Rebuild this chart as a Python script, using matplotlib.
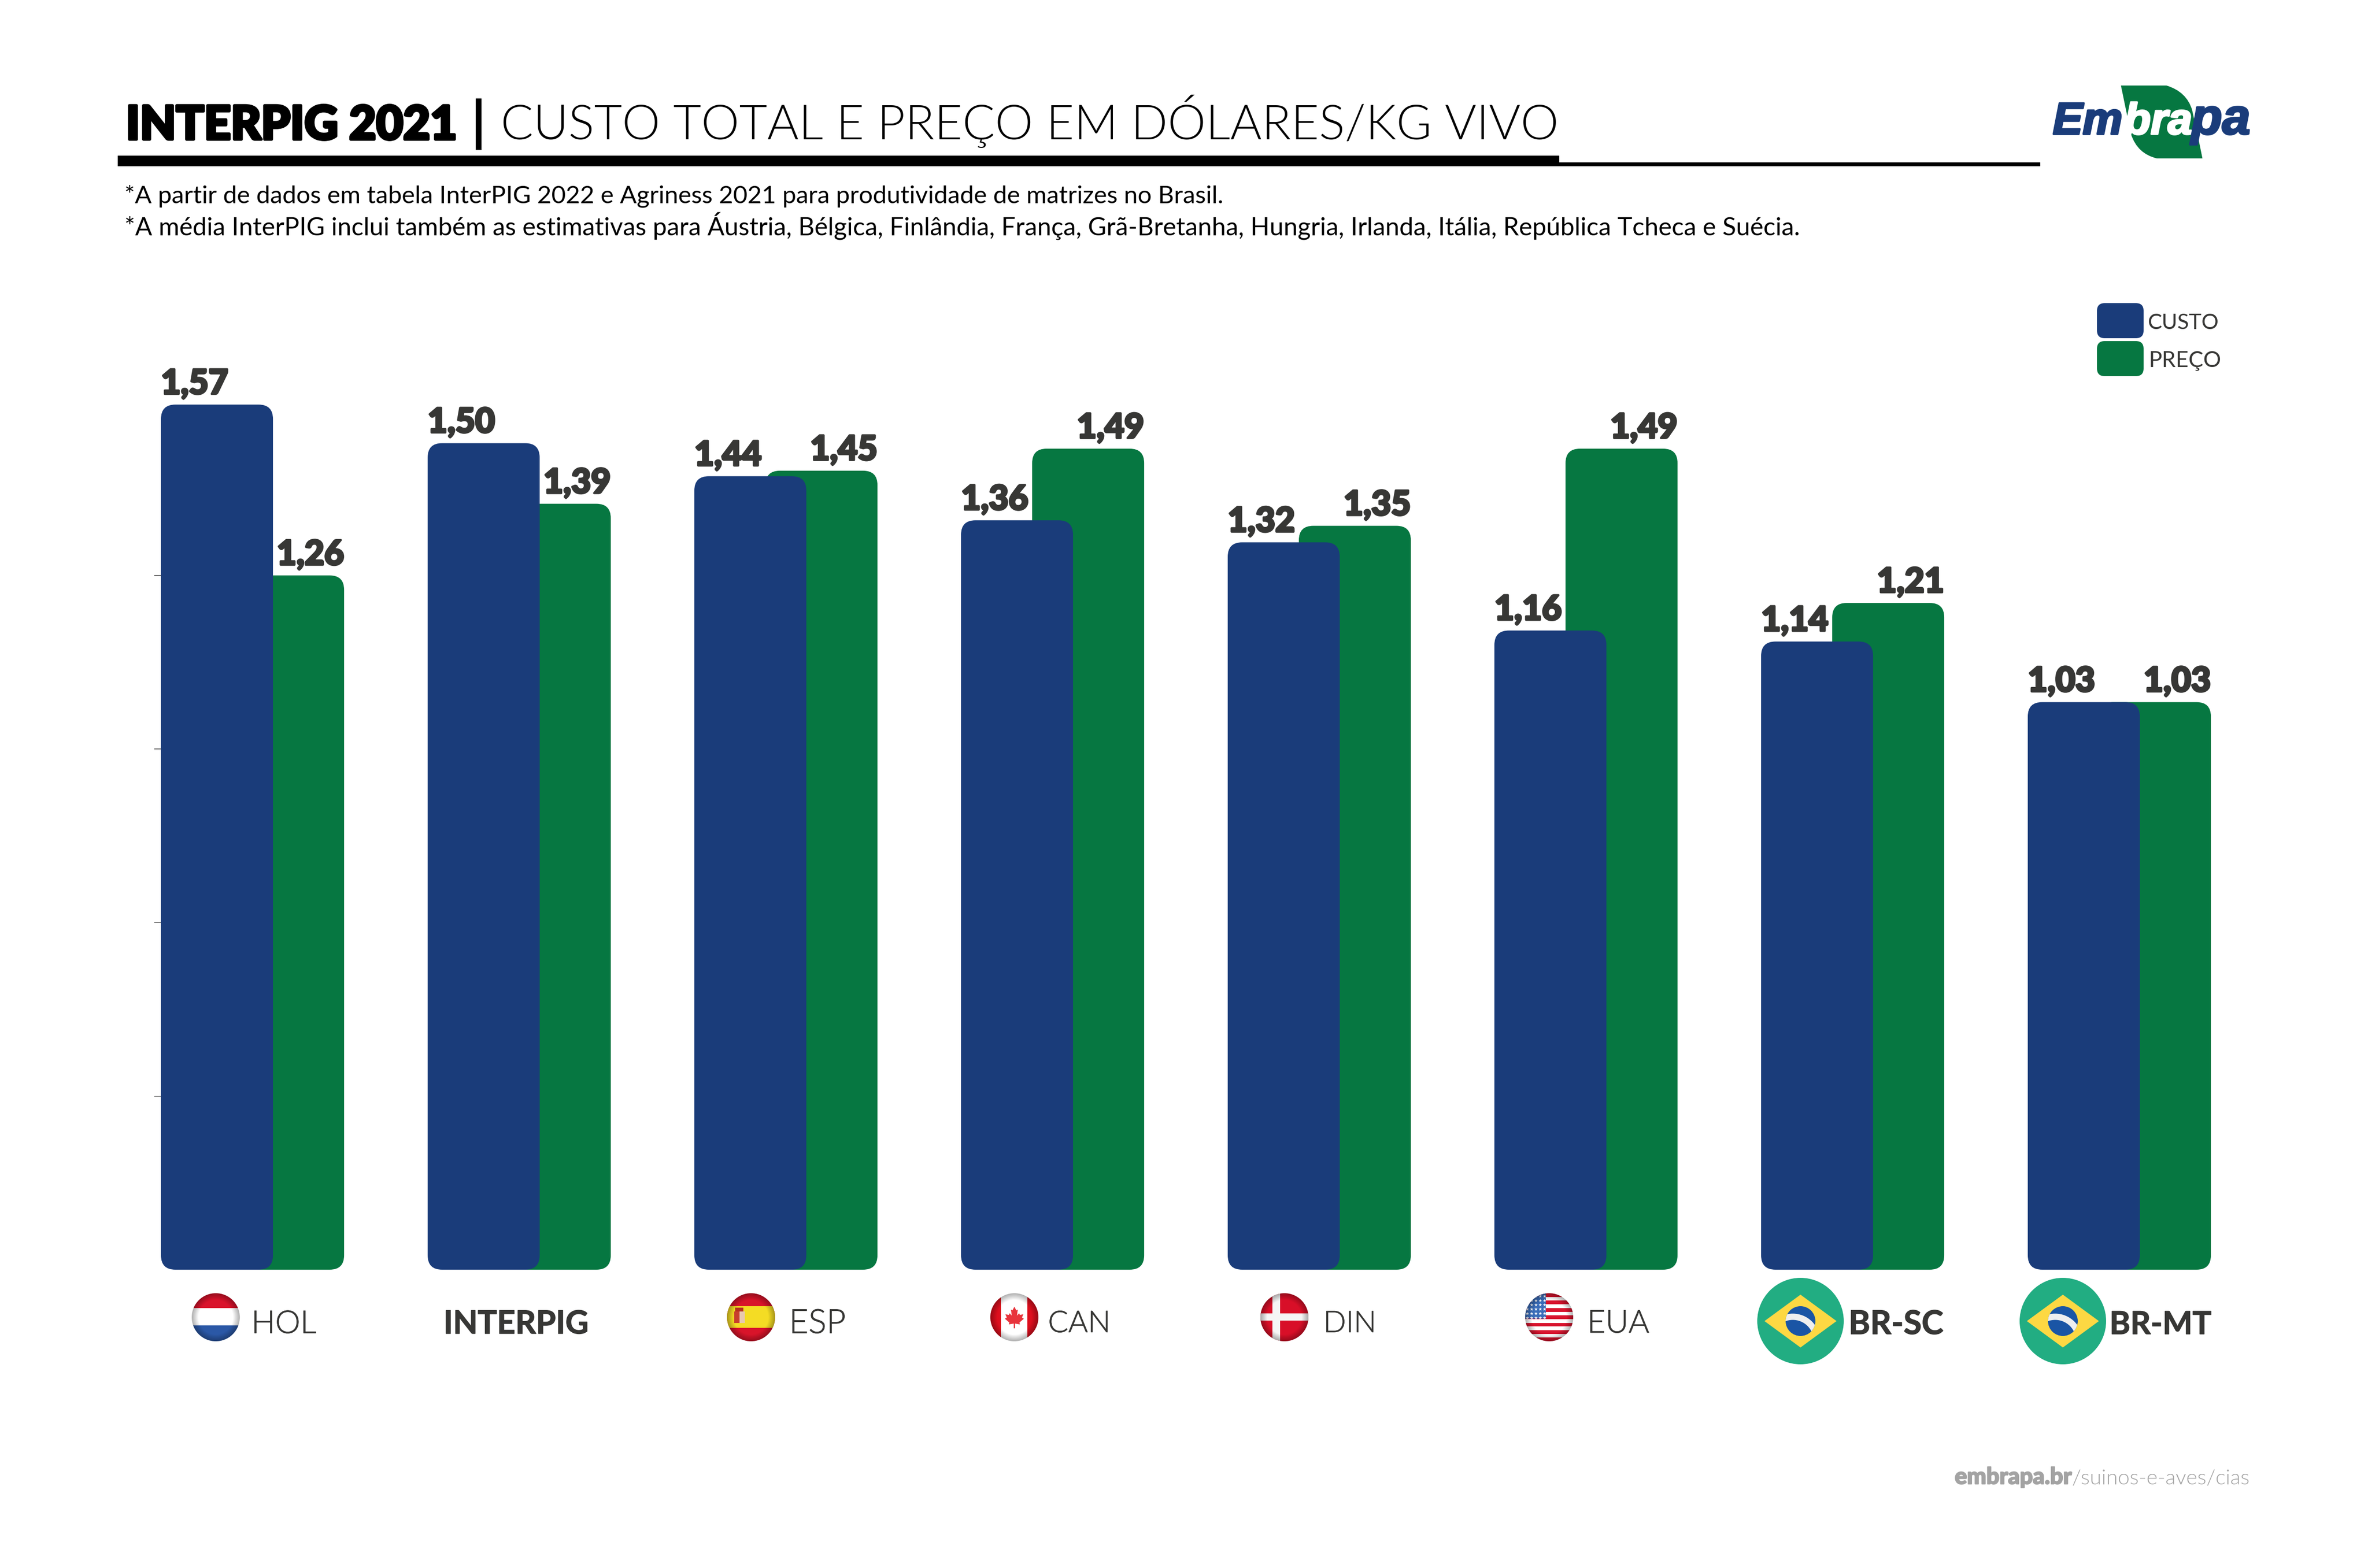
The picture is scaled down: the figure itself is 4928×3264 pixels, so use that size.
import numpy as np
import matplotlib
matplotlib.use("Agg")
import matplotlib.pyplot as plt
import matplotlib.patheffects as pe
from matplotlib.patches import Circle, FancyBboxPatch, PathPatch, Polygon, Rectangle
from matplotlib.path import Path

# Dados do grafico
paises = ["HOL", "INTERPIG", "ESP", "CAN", "DIN", "EUA", "BR-SC", "BR-MT"]
custo = [1.57, 1.50, 1.44, 1.36, 1.32, 1.16, 1.14, 1.03]
preco = [1.26, 1.39, 1.45, 1.49, 1.35, 1.49, 1.21, 1.03]
marcas_y = [0.315, 0.63, 0.945, 1.26]

titulo_forte = "INTERPIG 2021"
titulo_leve = "CUSTO TOTAL E PREÇO EM DÓLARES/KG VIVO"
nota_1 = "*A partir de dados em tabela InterPIG 2022 e Agriness 2021 para produtividade de matrizes no Brasil."
nota_2 = ("*A média InterPIG inclui também as estimativas para Áustria, Bélgica, Finlândia, França, "
          "Grã-Bretanha, Hungria, Irlanda, Itália, República Tcheca e Suécia.")

AZUL = "#1a3c7a"
VERDE = "#067741"
TEXTO = "#373735"
CINZA = "#a3a3a3"
FONTE = "Lato"

W, H = 4928, 3264
fig = plt.figure(figsize=(W / 200, H / 200), dpi=200, facecolor="white")
renderer = fig.canvas.get_renderer()

# eixo dos dados, em pixels: base em y=2643, 1147 px por dolar, 555 px entre grupos
LARGURA = 0.42
DESLOC = 0.2667
x_esq, x_dir = -0.3433, 7.3433
y_max = 1.7
base_px = 2643
px_y = 1147
px_x = 555
ax = fig.add_axes([335 / W, (H - base_px) / H, (x_dir - x_esq) * px_x / W, y_max * px_y / H])
ax.set_xlim(x_esq, x_dir)
ax.set_ylim(0, y_max)
ax.patch.set_alpha(0)
for lado in ax.spines.values():
    lado.set_visible(False)
ax.set_xticks([])
ax.set_yticks(marcas_y)
ax.set_yticklabels([])
ax.tick_params(axis="y", length=5, width=0.7, color="#666666")

# eixo de desenho em pixels, para titulo, bandeiras e logo
ov = fig.add_axes([0, 0, 1, 1], zorder=5)
ov.set_xlim(0, W)
ov.set_ylim(H, 0)
ov.axis("off")


def fit_text(s, x0, x1, y, color=TEXTO, weight="normal", family=FONTE, size=20, style="normal", engrossa=0):
    """Escreve o texto com a linha de base em y, ajustando o corpo para ir de x0 a x1."""
    t = ov.text(x0, y, s, color=color, fontweight=weight, family=family, fontsize=size,
                fontstyle=style, ha="left", va="baseline", zorder=10)
    w = t.get_window_extent(renderer).width
    t.set_fontsize(size * (x1 - x0) / w)
    if engrossa:
        t.set_path_effects([pe.withStroke(linewidth=engrossa, foreground=color)])
    return t


def barra(i, topo, centro, cor, z):
    r = FancyBboxPatch((i + centro - LARGURA / 2, 0), LARGURA, topo,
                       boxstyle="round,pad=0,rounding_size=0.054",
                       mutation_aspect=px_x / px_y, fc=cor, ec="none", zorder=z)
    ax.add_patch(r)


def rotulo(x, y, valor, ha):
    t = ax.annotate(f"{valor:.2f}".replace(".", ","), (x, y), xytext=(0, 8), textcoords="offset points",
                    ha=ha, va="baseline", color=TEXTO, fontsize=25.5, fontweight=900, family=FONTE)
    t.set_path_effects([pe.withStroke(linewidth=1.6, foreground=TEXTO)])


for i, nome in enumerate(paises):
    barra(i, preco[i], DESLOC / 2, VERDE, 2)
    barra(i, custo[i], -DESLOC / 2, AZUL, 3)
    rotulo(i - DESLOC / 2 - LARGURA / 2, custo[i], custo[i], "left")
    rotulo(i + DESLOC / 2 + LARGURA / 2, preco[i], preco[i], "right")

# titulo
fit_text(titulo_forte, 262, 951, 290, color="black", weight=900, engrossa=2.2)
ov.add_patch(Rectangle((990, 205), 12, 107, fc="black", ec="none"))
fit_text(titulo_leve, 1042, 3240, 290, color="black", weight=300)
ov.add_patch(Rectangle((245, 324), 3000, 22, fc="black", ec="none"))
ov.add_patch(Rectangle((3245, 338), 1001, 8, fc="black", ec="none"))
fit_text(nota_1, 259, 2549, 423, color="black", weight=400)
fit_text(nota_2, 259, 3748, 491, color="black", weight=400)

# legenda
for y0, cor, txt, a, b, yb in [(631, AZUL, "CUSTO", 4470, 4618, 685), (710, VERDE, "PREÇO", 4472, 4623, 764)]:
    ov.add_patch(FancyBboxPatch((4364, y0), 97, 73, boxstyle="round,pad=0,rounding_size=16", fc=cor, ec="none"))
    fit_text(txt, a, b, yb, weight=400)

# rodape
fit_text("embrapa.br", 4068, 4311, 3089, color=CINZA, weight=900, engrossa=0.8)
fit_text("/suinos-e-aves/cias", 4311, 4681, 3089, color=CINZA, weight=300)


# logo
def lp(X, Y):
    return 4100 + X / 2.24, 100 + Y / 2.09


folha = [lp(703, 163), lp(915, 163), lp(1010, 190), lp(1035, 270), lp(1068, 412), lp(1083, 480),
         lp(870, 480), lp(780, 460), lp(750, 375), lp(703, 163)]
codigos = [Path.MOVETO, Path.LINETO, Path.CURVE3, Path.CURVE3, Path.LINETO, Path.LINETO,
           Path.LINETO, Path.CURVE3, Path.CURVE3, Path.CLOSEPOLY]
ov.add_patch(PathPatch(Path(folha, codigos), fc=VERDE, ec="none", zorder=6))
LOGO = "Liberation Sans"
fit_text("Em", 4272, 4417, 279, color=AZUL, weight="bold", family=LOGO, style="italic", engrossa=1.5)
fit_text("bra", 4420, 4562, 279, color="white", weight="bold", family=LOGO, style="italic", engrossa=1.5)
fit_text("pa", 4560, 4683, 279, color=AZUL, weight="bold", family=LOGO, style="italic", engrossa=1.5)


# bandeiras
def brilho(cx, cy, r, clip):
    """Sombra na borda e reflexo claro, como nos botoes redondos do original."""
    g = np.linspace(-1, 1, 120)
    xx, yy = np.meshgrid(g, g)
    d = np.hypot(xx, yy)
    rgba = np.zeros((120, 120, 4))
    rgba[..., 3] = np.clip((d - 0.72) * 1.1, 0, 0.4)
    im = ov.imshow(rgba, extent=(cx - r, cx + r, cy + r, cy - r), aspect="auto", zorder=8, interpolation="bilinear")
    im.set_clip_path(clip)


def base_bandeira(cx, cy, r=50):
    c = Circle((cx, cy), r, transform=ov.transData, fc="white", ec="none", zorder=6)
    ov.add_patch(c)
    return c


def faixa(x, y, w, h, cor, clip, z=7):
    p = Rectangle((x, y), w, h, fc=cor, ec="none", zorder=z)
    ov.add_patch(p)
    p.set_clip_path(clip)


CY = 2742
# Holanda
c = base_bandeira(449, CY)
faixa(399, CY - 50, 100, 31, "#d9122b", c)
faixa(399, CY + 17, 100, 33, "#2b58a6", c)
brilho(449, CY, 50, c)
# Espanha
c = base_bandeira(1563, CY)
faixa(1513, CY - 50, 100, 100, "#d8142a", c)
faixa(1513, CY - 23, 100, 45, "#f4dc24", c)
faixa(1528, CY - 12, 11, 24, "#c8402c", c)
faixa(1539, CY - 12, 11, 24, "#e8c8b0", c)
faixa(1530, CY - 20, 17, 8, "#b5301f", c)
brilho(1563, CY, 50, c)
# Canada
c = base_bandeira(2111, CY)
faixa(2061, CY - 50, 22, 100, "#dd0f1e", c)
faixa(2138, CY - 50, 23, 100, "#dd0f1e", c)
folha_x = [0, .18, .32, .25, .45, .52, .85, .72, .9, .48, .52, .06, .06]
folha_y = [-1, -.65, -.72, -.15, -.38, -.22, -.28, .02, .14, .5, .68, .6, 1.05]
pts = [(2111 + 22 * a, CY + 22 * b) for a, b in zip(folha_x, folha_y)]
pts += [(2111 - 22 * a, CY + 22 * b) for a, b in zip(folha_x[::-1], folha_y[::-1])]
ov.add_patch(Polygon(pts, fc="#e8343c", ec="none", zorder=7))
brilho(2111, CY, 50, c)
# Dinamarca
c = base_bandeira(2673, CY)
faixa(2623, CY - 50, 100, 100, "#d80f28", c)
faixa(2648, CY - 50, 16, 100, "#f5f5f5", c)
faixa(2623, CY - 8, 100, 15, "#f5f5f5", c)
brilho(2673, CY, 50, c)
# EUA
c = base_bandeira(3224, CY)
for k in range(0, 13, 2):
    faixa(3174, CY - 50 + k * 7.7, 100, 7.7, "#d8142e", c)
faixa(3174, CY - 50, 43, 53, "#3a6cb8", c)
sx, sy = np.meshgrid(np.arange(3178, 3217, 9), np.arange(CY - 44, CY + 3, 9))
estrelas = ov.scatter(sx.ravel(), sy.ravel(), s=7, c="white", marker="*", linewidths=0, zorder=7.5)
estrelas.set_clip_path(c)
brilho(3224, CY, 50, c)
# Brasil
for cx in [3747, 4293]:
    ov.add_patch(Circle((cx, 2750), 90, fc="#22ad82", ec="none", zorder=6))
    ov.add_patch(Polygon([(cx - 75, 2750), (cx, 2695), (cx + 75, 2750), (cx, 2805)], fc="#fdd843", ec="none", zorder=7))
    globo = Circle((cx, 2750), 31, fc="#1a55a5", ec="none", zorder=7.2)
    ov.add_patch(globo)
    arco = Circle((cx - 16, 2791), 50, fill=False, ec="#efefef", lw=4.7, zorder=7.4)
    ov.add_patch(arco)
    arco.set_clip_path(globo)
ov.set_xlim(0, W)
ov.set_ylim(H, 0)

# nomes dos paises
fit_text("HOL", 523, 658, 2775, weight=300, engrossa=0.3)
fit_text("INTERPIG", 923, 1225, 2776, weight=700, engrossa=0.5)
fit_text("ESP", 1642, 1760, 2775, weight=300, engrossa=0.3)
fit_text("CAN", 2181, 2311, 2773, weight=300, engrossa=0.3)
fit_text("DIN", 2754, 2864, 2773, weight=300, engrossa=0.3)
fit_text("EUA", 3303, 3432, 2774, weight=300, engrossa=0.3)
fit_text("BR-SC", 3847, 4044, 2777, weight=700, engrossa=0.5)
fit_text("BR-MT", 4390, 4602, 2777, weight=700, engrossa=0.5)

fig.savefig("out.png", dpi=200, facecolor="white")
